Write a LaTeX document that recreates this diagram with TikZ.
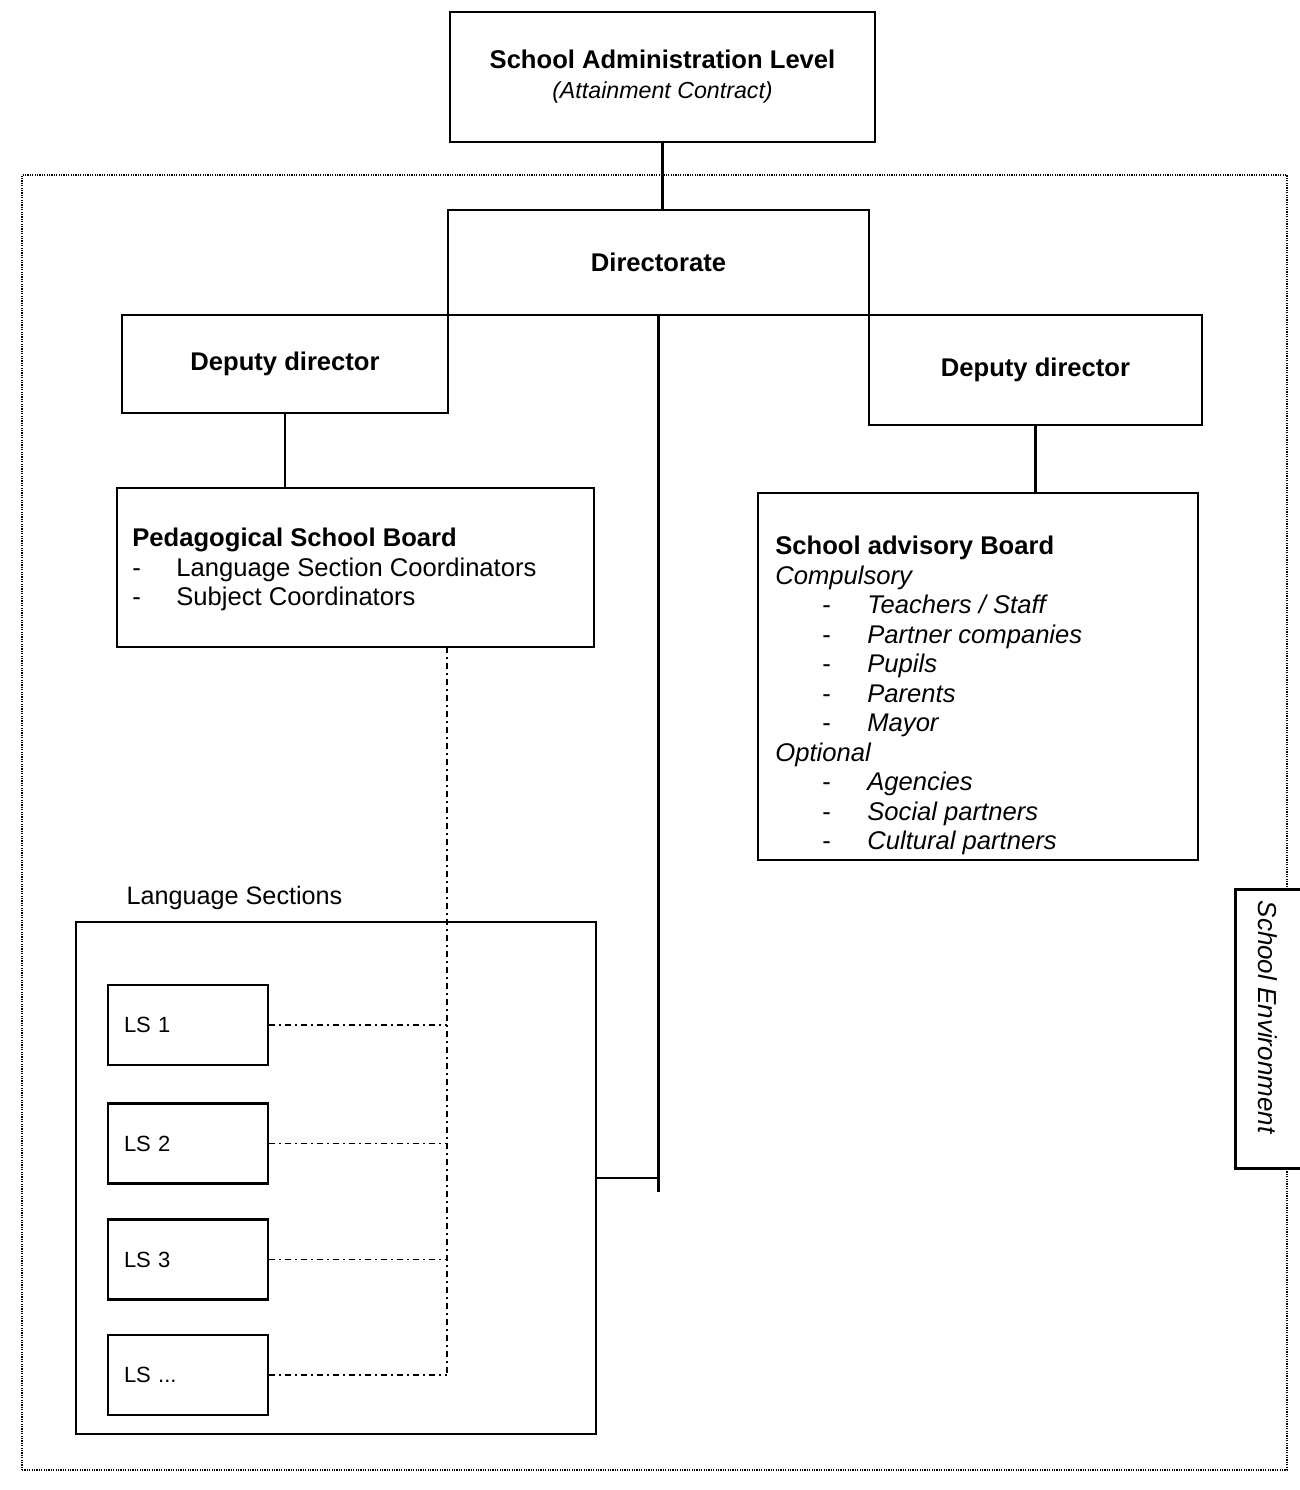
\documentclass[tikz,border=0pt]{standalone}
\usepackage{fontspec}
\setmainfont{Liberation Sans}

\newcommand{\pedline}[1]{\makebox[22pt][l]{-}#1}
\newcommand{\advline}[1]{\hspace*{23.5pt}\makebox[22.5pt][l]{-}\textit{#1}}

\tikzset{
	box/.style={draw, line width=1.2pt, inner sep=0pt, font=\fontsize{12.8}{15}\selectfont\bfseries},
	listtext/.style={inner sep=0pt, align=left, anchor=north west, font=\fontsize{12.8}{14.75}\selectfont},
	lsbox/.style={draw, line width=1.2pt, minimum width=80pt, minimum height=40pt, inner xsep=8pt, text width=64pt, align=left, font=\fontsize{11}{13}\selectfont},
	link/.style={line width=1.2pt},
	dotlink/.style={line width=0.9pt, dash pattern=on 3pt off 2pt on 1pt off 2pt},
	envline/.style={line width=0.8pt, dash pattern=on 0.6pt off 0.6pt},
}

\begin{document}
\begin{tikzpicture}[x=0.5pt, y=-0.5pt]
			\path [use as bounding box] (0,0) rectangle (1300,1490);

			\node [envline, draw, inner sep=0pt, minimum width=632.5pt, minimum height=647.5pt] (env) at (654.5,822.5) {};
			\node [fill=white, inner sep=0pt, minimum width=32pt, minimum height=139pt] (envlab) at (1268,1029) {};
			\draw [link] (envlab.north east) to (envlab.north west) to (envlab.south west) to (envlab.south east);
			\node [rotate=-90, font=\fontsize{13}{15}\selectfont\itshape] (envtxt) at (1268,1017) {School Environment};

			\node [box, align=center, minimum width=212.5pt, minimum height=65pt] (admin) at (662.5,77) {School Administration Level\\{\fontsize{11.6}{14}\selectfont\mdseries\itshape (Attainment Contract)}};
			\node [box, minimum width=210.5pt, minimum height=52.5pt] (dir) at (658.5,262.5) {Directorate};
			\node [box, minimum width=163pt, minimum height=49pt] (ldep) at (285,364) {Deputy director};
			\node [box, minimum width=166.5pt, minimum height=55pt] (rdep) at (1035.5,370) {Deputy director};

			\node [box, minimum width=238.5pt, minimum height=79.5pt] (ped) at (355.5,567.5) {};
			\node [listtext] (pedtxt) at (132,528) {\textbf{Pedagogical School Board}\\\pedline{Language Section Coordinators}\\\pedline{Subject Coordinators}};

			\node [box, minimum width=220pt, minimum height=183.5pt] (adv) at (978,676.5) {};
			\node [listtext] (advtxt) at (775,536) {\textbf{School advisory Board}\\\textit{Compulsory}\\\advline{Teachers / Staff}\\\advline{Partner companies}\\\advline{Pupils}\\\advline{Parents}\\\advline{Mayor}\\\textit{Optional}\\\advline{Agencies}\\\advline{Social partners}\\\advline{Cultural partners}};

			\node [font=\fontsize{12.6}{15}\selectfont] (lslabel) at (234.5,898) {Language Sections};
			\node [box, minimum width=260pt, minimum height=256pt] (lsgroup) at (336,1178) {};
			\node [lsbox] (ls1) at (188,1025) {LS 1};
			\node [lsbox] (ls2) at (188,1143.5) {LS 2};
			\node [lsbox] (ls3) at (188,1259.5) {LS 3};
			\node [lsbox] (ls4) at (188,1375) {LS ...};

			\coordinate (dirfoot) at (658.5,1192);
			\coordinate (pedtap) at (447,647);

			\draw [link] (admin.south) to (admin.south |- dir.north);
			\draw [link] (dir.south) to (dirfoot);
			\draw [link] (ldep.south) to (ldep.south |- ped.north);
			\draw [link] (rdep.south) to (rdep.south |- adv.north);
			\draw [link] (lsgroup.east) to (lsgroup.east -| dirfoot);

			\draw [dotlink] (pedtap) to (ls4.east -| pedtap);
			\draw [dotlink] (ls1.east) to (ls1.east -| pedtap);
			\draw [dotlink] (ls2.east) to (ls2.east -| pedtap);
			\draw [dotlink] (ls3.east) to (ls3.east -| pedtap);
			\draw [dotlink] (ls4.east) to (ls4.east -| pedtap);
		\end{tikzpicture}
\end{document}
